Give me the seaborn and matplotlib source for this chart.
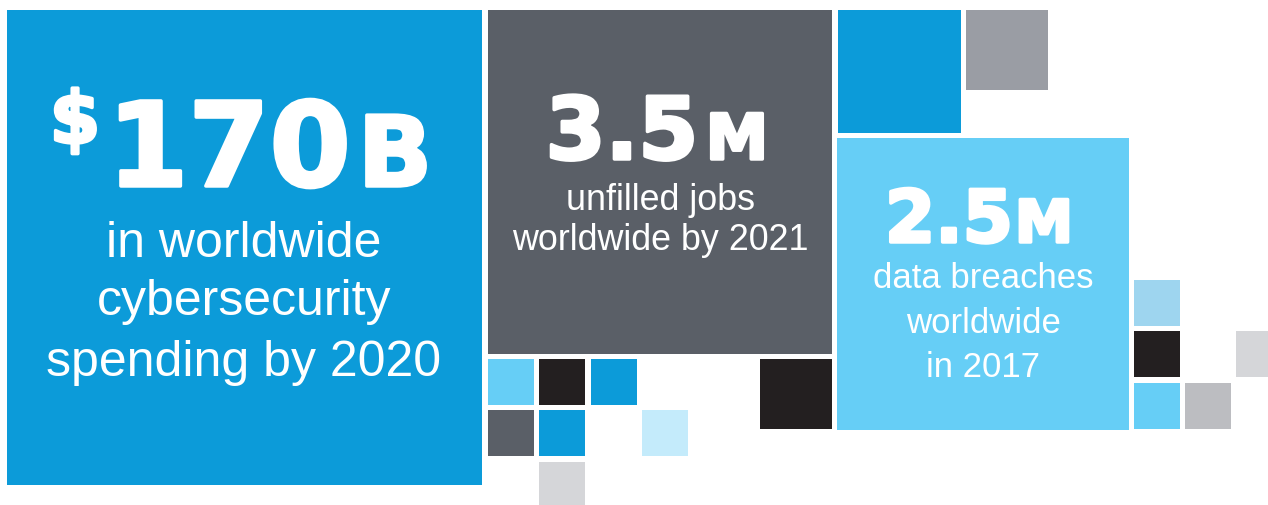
import matplotlib
matplotlib.use("Agg")
import matplotlib.pyplot as plt
import matplotlib.patheffects as pe
from matplotlib.patches import Rectangle
import seaborn as sns

# headline figures
stat_prefix = ["$", "", ""]
stat_number = ["170", "3.5", "2.5"]
stat_unit = ["B", "M", "M"]
stat_caption = [
    ["in worldwide", "cybersecurity", "spending by 2020"],
    ["unfilled jobs", "worldwide by 2021"],
    ["data breaches", "worldwide", "in 2017"],
]

BLUE = "#0C9BD9"
SLATE = "#5A5F67"
SKY = "#66CEF6"
INK = "#231F20"
ICE = "#C4EBFB"
MIST = "#D5D6D9"
STEEL = "#9A9DA4"
SILVER = "#BCBDC1"
PALE = "#9ED5EF"

# layout of the three stat boxes (pixel space, y down)
box_x = [7, 488, 837]
box_y = [10, 10, 138]
box_size = [475, 344, 292]
box_color = [BLUE, SLATE, SKY]

# decorative tiles: x, y, w, h, colour
tiles = [
    (838, 10, 123, 123, BLUE),
    (966, 10, 82, 80, STEEL),
    (488, 359, 46, 46, SKY),
    (539, 359, 46, 46, INK),
    (591, 359, 46, 46, BLUE),
    (488, 410, 46, 46, SLATE),
    (539, 410, 46, 46, BLUE),
    (642, 410, 46, 46, ICE),
    (539, 462, 46, 46, MIST),
    (760, 359, 72, 70, INK),
    (1134, 280, 46, 46, PALE),
    (1134, 331, 46, 46, INK),
    (1134, 383, 46, 46, SKY),
    (1185, 383, 46, 46, SILVER),
    (1236, 331, 46, 46, MIST),
]

# text placement per box: (x, baseline, size) for prefix / number / unit
prefix_pos = [(75, 143, 52), None, None]
number_pos = [(229, 186, 84), (622, 159, 62), (949, 242, 52)]
unit_pos = [(395, 186, 70), (737, 159, 45), (1044, 242, 42)]
caption_x = [244, 660, 983]
caption_base = [[257, 315, 376], [210, 250], [288, 333, 377]]
caption_size = [36, 25.8, 25]

sns.set_theme(style="white")
plt.rcParams["font.family"] = ["Liberation Sans", "DejaVu Sans"]

fig = plt.figure(figsize=(12.68, 5.05), dpi=100)
ax = fig.add_axes([0, 0, 1, 1])
ax.set_xlim(0, 1268)
ax.set_ylim(505, 0)
ax.axis("off")

for x, y, s, c in zip(box_x, box_y, box_size, box_color):
    ax.add_patch(Rectangle((x, y), s, s, facecolor=c, edgecolor="none"))
for x, y, w, h, c in tiles:
    ax.add_patch(Rectangle((x, y), w, h, facecolor=c, edgecolor="none"))

# a thin white outline makes DejaVu Bold read closer to the heavy original
heavy = [pe.withStroke(linewidth=2.5, foreground="white")]
big = dict(color="white", family="DejaVu Sans", weight="bold",
           ha="center", va="baseline", path_effects=heavy)
for i in range(3):
    if stat_prefix[i] and prefix_pos[i]:
        px, py, ps = prefix_pos[i]
        ax.text(px, py, stat_prefix[i], fontsize=ps, **big)
    nx, ny, ns = number_pos[i]
    ax.text(nx, ny, stat_number[i], fontsize=ns, **big)
    ux, uy, us = unit_pos[i]
    ax.text(ux, uy, stat_unit[i], fontsize=us, **big)
    for line, yb in zip(stat_caption[i], caption_base[i]):
        ax.text(caption_x[i], yb, line, fontsize=caption_size[i], color="white",
                ha="center", va="baseline")

fig.savefig("out.png", dpi=100, facecolor="white")
